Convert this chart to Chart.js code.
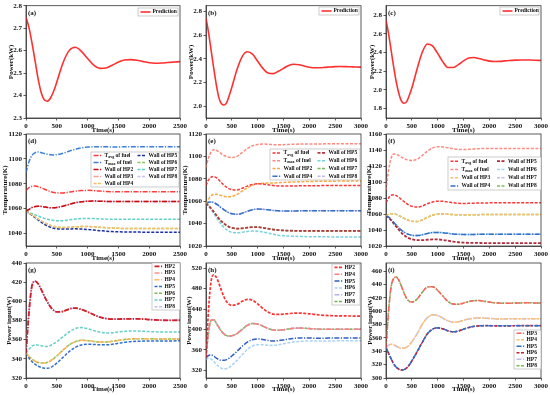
<!DOCTYPE html>
<html><head><meta charset="utf-8">
<script src="https://cdn.jsdelivr.net/npm/chart.js@4.4.1/dist/chart.umd.min.js"></script>
<style>
html,body{margin:0;padding:0;background:#fff;width:550px;height:395px;overflow:hidden;position:relative;}
canvas{position:absolute;}
</style></head><body>
<script>
// ---------- time axes ----------
const T2500 = [0,50,100,150,200,250,300,350,400,450,500,600,700,800,900,1000,1100,1200,1300,1400,1500,1600,1700,1800,1900,2000,2100,2200,2300,2400,2500];
const T3000 = [0,50,100,150,200,250,300,350,400,450,500,600,700,800,900,1000,1100,1200,1300,1400,1500,1600,1700,1800,1900,2000,2100,2200,2300,2400,2500,2600,2700,2800,2900,3000];
const XTICKS_2500 = [0,500,1000,1500,2000,2500];
const XTICKS_3000 = [0,500,1000,1500,2000,2500,3000];

// ---------- (a)-(c) power prediction (kW) ----------
const PRED_A = [2.75,2.70,2.63,2.55,2.47,2.41,2.38,2.375,2.39,2.42,2.46,2.545,2.60,2.615,2.597,2.565,2.535,2.521,2.523,2.535,2.549,2.558,2.56,2.557,2.551,2.546,2.544,2.545,2.547,2.549,2.551];
const PRED_B = [2.75,2.62,2.47,2.32,2.18,2.07,2.02,2.01,2.03,2.09,2.16,2.31,2.42,2.46,2.44,2.38,2.32,2.28,2.275,2.295,2.32,2.345,2.355,2.35,2.34,2.33,2.325,2.325,2.328,2.332,2.335,2.336,2.335,2.333,2.331,2.33];
const PRED_C = [2.75,2.60,2.42,2.24,2.08,1.96,1.88,1.857,1.875,1.94,2.02,2.22,2.40,2.49,2.47,2.39,2.30,2.24,2.24,2.27,2.31,2.34,2.346,2.335,2.32,2.308,2.304,2.305,2.31,2.315,2.318,2.32,2.32,2.319,2.317,2.315];
const YTICKS_A = [2.3,2.4,2.5,2.6,2.7,2.8];
const YTICKS_B = [2.0,2.2,2.4,2.6,2.8];
const YTICKS_C = [1.8,2.0,2.2,2.4,2.6,2.8];

// ---------- (d) temperatures (K) ----------
const D_TAVG = [1074.5,1077,1078,1078.2,1077.6,1076.7,1075.6,1074.6,1073.7,1073,1072.6,1072.6,1073.3,1074.1,1074.6,1074.7,1074.5,1074.1,1073.8,1073.6,1073.5,1073.5,1073.5,1073.5,1073.5,1073.5,1073.5,1073.5,1073.5,1073.5,1073.5];
const D_TMAX = [1089,1098,1103,1105,1105.5,1105,1104.3,1103.7,1103.3,1103.2,1103.4,1104.5,1106.2,1107.8,1108.9,1109.5,1109.7,1109.8,1109.7,1109.6,1109.6,1109.7,1109.7,1109.8,1109.8,1109.8,1109.8,1109.8,1109.8,1109.8,1109.8];
const D_HP238 = [1058,1059.5,1061,1061.8,1062,1061.8,1061.4,1061,1060.8,1060.8,1061,1062,1063.4,1064.7,1065.6,1066,1066.1,1066,1065.8,1065.7,1065.7,1065.7,1065.8,1065.8,1065.8,1065.8,1065.8,1065.8,1065.8,1065.8,1065.8];
const D_HP7 = [1058,1057,1056,1055,1054,1053,1052.2,1051.5,1051,1050.5,1050.2,1050.3,1051,1051.6,1052,1052.1,1052,1051.8,1051.6,1051.5,1051.5,1051.5,1051.5,1051.5,1051.5,1051.5,1051.5,1051.5,1051.5,1051.5,1051.5];
const D_HP46 = [1058,1056.5,1055,1053.3,1051.5,1050,1048.7,1047.5,1046.5,1045.7,1045.2,1044.8,1045,1045.4,1045.6,1045.6,1045.4,1045,1044.7,1044.4,1044.2,1044.1,1044,1044,1044,1044,1044,1044,1044,1044,1044];
const D_HP5 = [1058,1056.3,1054.5,1052.7,1050.8,1049,1047.4,1046,1045,1044.3,1043.9,1043.6,1043.7,1043.8,1043.6,1043.3,1042.8,1042.3,1041.9,1041.6,1041.4,1041.3,1041.2,1041.2,1041.1,1041.1,1041.1,1041.1,1041.1,1041.1,1041.1];
const YTICKS_D = [1040,1060,1080,1100,1120];

// ---------- (e) temperatures (K) ----------
const E_TMAX = [1090,1099,1104,1106,1105.5,1104,1102.3,1100.8,1099.8,1099.2,1099,1100,1103.5,1107,1109.5,1110.7,1111,1110.8,1110.5,1110.4,1110.5,1110.7,1110.9,1111,1111,1111,1111.1,1111.1,1111.2,1111.2,1111.3,1111.3,1111.3,1111.4,1111.4,1111.4];
const E_TAVG = [1074,1079,1081.5,1082,1081,1079,1076.5,1074.2,1072.4,1071,1070.3,1070,1071.5,1073.5,1075,1075.5,1075.3,1074.6,1074,1073.6,1073.5,1073.5,1073.6,1073.7,1073.8,1073.8,1073.9,1073.9,1074,1074,1074,1074,1074,1074,1074,1074];
const E_HP2 = [1058,1062,1065,1066.2,1066.3,1065.7,1065,1064.4,1064,1064,1064.3,1066,1069,1072,1074.3,1075.5,1076,1076.2,1076.3,1076.5,1076.8,1077,1077.2,1077.4,1077.5,1077.6,1077.7,1077.8,1077.8,1077.9,1077.9,1078,1078,1078,1078,1078];
const E_HP48 = [1058,1059,1059.3,1058.8,1057.5,1055.8,1054,1052.3,1050.8,1049.6,1048.8,1048.3,1049.3,1051,1052.4,1053,1052.8,1052.3,1051.8,1051.4,1051.2,1051.2,1051.3,1051.4,1051.4,1051.5,1051.5,1051.5,1051.5,1051.5,1051.5,1051.5,1051.5,1051.5,1051.5,1051.5];
const E_HP57 = [1058,1056,1053.5,1050.5,1047.5,1044.5,1042,1040,1038.3,1037,1036.2,1035.5,1035.8,1036.4,1036.8,1036.8,1036.3,1035.5,1034.7,1034.2,1033.9,1033.7,1033.6,1033.5,1033.5,1033.5,1033.5,1033.5,1033.5,1033.5,1033.5,1033.5,1033.5,1033.5,1033.5,1033.5];
const E_HP6 = [1058,1055.5,1052.5,1049,1045.5,1042,1039,1036.5,1034.5,1033,1032.2,1031.8,1032.3,1033,1033.3,1033.2,1032.6,1031.6,1030.5,1029.7,1029.2,1028.9,1028.7,1028.5,1028.4,1028.3,1028.2,1028.2,1028.2,1028.1,1028.1,1028.1,1028.1,1028.1,1028.1,1028.1];
const YTICKS_E = [1020,1040,1060,1080,1100,1120];

// ---------- (f) temperatures (K) ----------
const F_TMAX = [1090,1115,1130,1135,1134.5,1133,1131,1129.3,1128,1127.2,1127,1128.5,1133,1138.5,1142.5,1144,1143.8,1142.8,1141.5,1140.7,1140.5,1140.8,1141.3,1141.7,1141.9,1142,1142,1142,1142,1142,1142,1142,1142,1142,1142,1142];
const F_TAVG = [1074,1080,1083.5,1084,1083,1080.8,1078,1075.4,1073,1071,1069.6,1068.6,1070,1072.8,1075,1076,1075.8,1075,1074,1073.4,1073.2,1073.3,1073.5,1073.7,1073.8,1073.9,1074,1074,1074,1074,1074,1074,1074,1074,1074,1074];
const F_HP38 = [1058,1059.5,1060.3,1060.3,1059.5,1058,1056.3,1054.6,1053,1051.7,1050.8,1050.5,1052.5,1055.7,1058.5,1059.8,1060,1059.7,1059.3,1059,1058.9,1059,1059.1,1059.2,1059.3,1059.3,1059.4,1059.4,1059.4,1059.4,1059.4,1059.4,1059.4,1059.4,1059.4,1059.4];
const F_HP467 = [1058,1056,1053,1049.5,1046,1042.5,1039.6,1037.3,1035.5,1034.2,1033.4,1033,1034,1035.7,1036.8,1037,1036.6,1035.8,1035,1034.6,1034.4,1034.4,1034.5,1034.6,1034.7,1034.7,1034.8,1034.8,1034.8,1034.8,1034.8,1034.8,1034.8,1034.8,1034.8,1034.8];
const F_HP5 = [1058,1055.5,1052,1048,1044,1040,1036.5,1033.5,1031.2,1029.5,1028.3,1027.3,1027.3,1027.8,1028.2,1028.2,1027.6,1026.6,1025.5,1024.7,1024.2,1024,1023.9,1023.8,1023.7,1023.7,1023.6,1023.6,1023.6,1023.6,1023.6,1023.6,1023.6,1023.6,1023.6,1023.6];
const YTICKS_F = [1020,1040,1060,1080,1100,1120,1140,1160];

// ---------- (g) power input (W) ----------
const G_HP238 = [346,390,417,421,418,412,405,399,394,390.5,389,389.5,392,393,391.5,389,386,383.5,382,381.5,381.5,381.6,381.8,381.8,381.5,381,380.6,380.3,380.2,380.2,380.3];
const G_HP7 = [346,350,353.5,354.6,354.3,353.6,353,353,354,355.8,358,363,368,371.5,372.6,371.5,369.5,367.8,367,367.2,367.9,368.6,369,369,368.8,368.5,368.2,368,367.9,367.9,368];
const G_HP46 = [346,342.5,339.5,337.5,336.2,335.6,335.6,336.4,338,340.3,343,349,354.5,358,359.3,359,358.2,357.6,357.6,358.3,359.3,360.2,360.8,361,361,360.9,360.8,360.7,360.7,360.8,360.8];
const G_HP5 = [346,340.5,337,334.3,332.3,331,330.3,330.2,331,333,335.5,341.5,347.5,352,354.5,355.3,355,354.6,354.6,355.2,356.2,357.2,357.9,358.3,358.5,358.6,358.6,358.6,358.6,358.7,358.8];
const YTICKS_G = [320,340,360,380,400,420,440];

// ---------- (h) power input (W) ----------
const H_HP2 = [345,440,495,507,502,490,476,463,454,449,447,449,455,459,457,450,441,434,430,429.5,430,431,431.8,432,431.5,430.5,429.3,428.3,427.5,427,426.7,426.5,426.4,426.3,426.2,426.2];
const H_HP478 = [345,395,418,419,412,404,396.5,391,388,387,387.5,392,400,408,411.5,410.5,406.5,402,399,398.5,399.5,401,402.3,402.7,402.5,401.8,401.1,400.6,400.4,400.3,400.4,400.5,400.6,400.6,400.5,400.5];
const H_HP5 = [345,349,350,347.5,344,341,339.5,339.5,341,344,348,357,367,375,380,381.5,380.5,378.5,377.5,378,379.5,381.3,382.6,383.2,383.3,383.1,383,383,383,383.1,383.2,383.3,383.4,383.4,383.4,383.4];
const H_HP6 = [341,343.5,342,337.5,332,327,324,323,323.5,326,330,339.5,350.5,361,367.5,370,370,369,368.8,370,372,374,375.6,376.6,377.1,377.3,377.4,377.4,377.4,377.5,377.6,377.7,377.7,377.7,377.7,377.7];
const YTICKS_H = [320,360,400,440,480,520];

// ---------- (i) power input (W) ----------
const I_HP38 = [345,400,437,449,451,446,437,427,419,414.5,413.5,418,428,436,436.5,431,422.5,414.5,410.5,410.3,412,414.3,415.6,415.8,414.9,413.6,412.6,412,411.8,411.9,412.1,412.3,412.4,412.4,412.3,412.3];
const I_HP47 = [345,349,350.5,349.5,347.5,345.5,344.5,344.5,346,349.5,354,366,380,390,394.5,393.5,389.5,385.5,383.5,384,386.3,388.3,389.5,389.8,389.5,389,388.6,388.4,388.4,388.5,388.6,388.7,388.7,388.7,388.7,388.7];
const I_HP56 = [345,337,328.5,321,316,313,312,312.5,315,319.5,325.5,339,353,366,373,375,373.5,370.5,369,370.3,373,375.5,377.2,378,378.2,378.2,378.1,378,378,378.1,378.2,378.3,378.3,378.3,378.3,378.3];
const YTICKS_I = [300,320,340,360,380,400,420,440,460];

// ---------- styles ----------
const FAM = '"Liberation Serif","Times New Roman",serif';
const TF = {family:'Liberation Serif', size:7, weight:'bold'};
const DD = [5,1.5,1.2,1.5];
const DS = [3,1.5];

function ser(label, data, color, dash, w){ return {label, data, color, dash, w: w||1.5}; }

function drawLabel(ctx, txt, x, y){
  ctx.fillStyle = '#111'; ctx.textBaseline = 'middle'; ctx.textAlign = 'left';
  const m = txt.match(/^T_(\w+)(.*)$/);
  ctx.font = 'bold 5.5px ' + FAM;
  if (m) {
    ctx.fillText('T', x, y);
    let w = ctx.measureText('T').width;
    ctx.font = 'bold 4px ' + FAM;
    ctx.fillText(m[1], x + w, y + 1.6);
    w += ctx.measureText(m[1]).width;
    ctx.font = 'bold 5.5px ' + FAM;
    ctx.fillText(m[2], x + w, y);
  } else ctx.fillText(txt, x, y);
}

function makeFrame(sp){
  return {
    id: 'frame',
    afterDraw(chart){
      const ctx = chart.ctx, a = chart.chartArea;
      ctx.save();
      ctx.setLineDash([]);
      ctx.strokeStyle = '#333'; ctx.lineWidth = 0.8;
      ctx.strokeRect(a.left, a.top, a.right - a.left, a.bottom - a.top);
      ctx.fillStyle = '#111'; ctx.font = 'bold 7px ' + FAM;
      ctx.textBaseline = 'middle'; ctx.textAlign = 'left';
      ctx.fillText(sp.letter, a.left + 2, a.top + 7);
      const [lx, ly, lw, lh] = sp.legend;
      const x0 = lx - sp.box[0], y0 = ly - sp.box[1];
      ctx.fillStyle = '#fff'; ctx.fillRect(x0, y0, lw, lh);
      ctx.strokeStyle = '#aaa'; ctx.lineWidth = 0.6; ctx.strokeRect(x0, y0, lw, lh);
      const ds = chart.data.datasets, rows = sp.rows;
      const cols = Math.ceil(ds.length / rows);
      const rh = lh / rows, cw = lw / cols;
      ds.forEach((d, i) => {
        const c = Math.floor(i / rows), r = i % rows;
        const x = x0 + c * cw + 2.5, y = y0 + rh * (r + 0.5);
        ctx.strokeStyle = d.borderColor; ctx.lineWidth = d.borderWidth;
        ctx.setLineDash(d.borderDash || []);
        ctx.beginPath(); ctx.moveTo(x, y); ctx.lineTo(x + sp.sample, y); ctx.stroke();
        ctx.setLineDash([]);
        drawLabel(ctx, d.label, x + sp.sample + 2, y);
      });
      ctx.restore();
    }
  };
}

function panel(sp){
  const [cl, ct, cw, ch] = sp.box;
  const [pl, pt, pr, pb] = sp.plot;
  const cv = document.createElement('canvas');
  cv.width = cw; cv.height = ch;
  cv.style.left = cl + 'px'; cv.style.top = ct + 'px';
  cv.style.width = cw + 'px'; cv.style.height = ch + 'px';
  document.body.appendChild(cv);
  const yW = pl - cl - sp.padL;
  const xH = ct + ch - pb;
  const grid = {drawOnChartArea:false, tickLength:2.5, color:'#333', lineWidth:0.8};
  new Chart(cv, {
    type: 'line',
    data: {datasets: sp.series.map(s => ({
      label: s.label,
      data: sp.t.map((x, i) => ({x, y: s.data[i]})),
      borderColor: s.color, borderDash: s.dash, borderWidth: s.w,
      pointRadius: 0, fill: false, cubicInterpolationMode: 'monotone'
    }))},
    options: {
      responsive: false, animation: false, devicePixelRatio: 1,
      layout: {padding: {left: sp.padL, top: pt - ct, right: cl + cw - pr, bottom: 0}},
      plugins: {legend: {display: false}, tooltip: {enabled: false}},
      scales: {
        x: {type: 'linear', min: 0, max: sp.t[sp.t.length - 1],
          afterBuildTicks: s => { s.ticks = sp.xTicks.map(v => ({value: v})); },
          afterFit: s => { s.height = xH; },
          grid, border: {color: '#333', width: 0.8},
          ticks: {font: TF, color: '#111', padding: 1, maxRotation: 0, autoSkip: false, callback: v => String(v)},
          title: {display: true, text: 'Time(s)', font: TF, color: '#111', padding: {top: 0, bottom: 0}}},
        y: {type: 'linear', min: sp.yMin, max: sp.yMax,
          afterBuildTicks: s => { s.ticks = sp.yTicks.map(v => ({value: v})); },
          afterFit: s => { s.width = yW; },
          grid, border: {color: '#333', width: 0.8},
          ticks: {font: TF, color: '#111', padding: 1.5, autoSkip: false, callback: v => sp.fmt(v)},
          title: {display: true, text: sp.yTitle, font: TF, color: '#111', padding: {top: 0, bottom: 0}}}
      }
    },
    plugins: [makeFrame(sp)]
  });
}

const f1 = v => v.toFixed(1), f0 = v => String(Math.round(v));
const RED = '#ff3030';

// row 1
panel({letter:'(a)', box:[0,0,190,134], plot:[26,5,180,118], padL:6.5, t:T2500, xTicks:XTICKS_2500,
  yMin:2.3, yMax:2.8, yTicks:YTICKS_A, fmt:f1, yTitle:'Power(kW)', legend:[138,8,40,8], rows:1, sample:10,
  series:[ser('Prediction', PRED_A, RED, [], 1.6)]});
panel({letter:'(b)', box:[180,0,191,134], plot:[206,5,361,118], padL:6.5, t:T3000, xTicks:XTICKS_3000,
  yMin:1.9, yMax:2.85, yTicks:YTICKS_B, fmt:f1, yTitle:'Power(kW)', legend:[319,7,40,8], rows:1, sample:10,
  series:[ser('Prediction', PRED_B, RED, [], 1.6)]});
panel({letter:'(c)', box:[365,0,186,134], plot:[386,5,541,118], padL:2.5, t:T3000, xTicks:XTICKS_3000,
  yMin:1.7, yMax:2.9, yTicks:YTICKS_C, fmt:f1, yTitle:'Power(kW)', legend:[500,7,39,8], rows:1, sample:10,
  series:[ser('Prediction', PRED_C, RED, [], 1.6)]});

// row 2
panel({letter:'(d)', box:[0,128,190,134], plot:[26,134,180,246], padL:1, t:T2500, xTicks:XTICKS_2500,
  yMin:1030, yMax:1120, yTicks:YTICKS_D, fmt:f0, yTitle:'Temperature(K)', legend:[91,152,88,35], rows:5, sample:9,
  series:[
    ser('T_avg of fuel', D_TAVG, '#ff3b3b', DD),
    ser('T_max of fuel', D_TMAX, '#3c7fd8', DD),
    ser('Wall of HP2', D_HP238, '#cc0a0a', DD),
    ser('Wall of HP3', D_HP238, '#ff9a9a', DD),
    ser('Wall of HP4', D_HP46, '#ffbf6a', DS),
    ser('Wall of HP5', D_HP5, '#1a2fa0', DS),
    ser('Wall of HP6', D_HP46, '#8cc85a', DS),
    ser('Wall of HP7', D_HP7, '#5fd0c8', DS),
    ser('Wall of HP8', D_HP238, '#c8c0f2', DS)]});
panel({letter:'(e)', box:[180,128,191,134], plot:[206,134,361,246], padL:1, t:T3000, xTicks:XTICKS_3000,
  yMin:1020, yMax:1120, yTicks:YTICKS_E, fmt:f0, yTitle:'Temperature(K)', legend:[270,149,90,31], rows:4, sample:9,
  series:[
    ser('T_avg of fuel', E_TAVG, '#ff3535', DS),
    ser('T_max of fuel', E_TMAX, '#ff8a80', DS),
    ser('Wall of HP2', E_HP2, '#ffa840', DS),
    ser('Wall of HP4', E_HP48, '#2f6fc8', DD),
    ser('Wall of HP5', E_HP57, '#b83840', DS, 1.8),
    ser('Wall of HP6', E_HP6, '#78d0dc', DS),
    ser('Wall of HP7', E_HP57, '#6fbf60', DS),
    ser('Wall of HP8', E_HP48, '#c4bcf0', DS)]});
panel({letter:'(f)', box:[365,128,186,134], plot:[386,134,541,246], padL:0, t:T3000, xTicks:XTICKS_3000,
  yMin:1020, yMax:1160, yTicks:YTICKS_F, fmt:f0, yTitle:'Temperature(K)', legend:[448,157,93,33], rows:4, sample:9,
  series:[
    ser('T_avg of fuel', F_TAVG, '#ff3535', DS),
    ser('T_max of fuel', F_TMAX, '#ff8a80', DS),
    ser('Wall of HP3', F_HP38, '#ffbf6a', DS),
    ser('Wall of HP4', F_HP467, '#2f6fc8', DD),
    ser('Wall of HP5', F_HP5, '#b02a3a', DS, 1.8),
    ser('Wall of HP6', F_HP467, '#a0d4f0', DS),
    ser('Wall of HP7', F_HP467, '#c4bcf0', DS),
    ser('Wall of HP8', F_HP38, '#7fbf5a', DS)]});

// row 3
panel({letter:'(g)', box:[0,256,190,137], plot:[26,263,180,378], padL:5, t:T2500, xTicks:XTICKS_2500,
  yMin:320, yMax:440, yTicks:YTICKS_G, fmt:f0, yTitle:'Power input(W)', legend:[152,263,28,47], rows:7, sample:8,
  series:[
    ser('HP2', G_HP238, '#d0202a', DD, 1.8),
    ser('HP3', G_HP238, '#ff8f8f', DD),
    ser('HP4', G_HP46, '#ffb860', DD),
    ser('HP5', G_HP5, '#2f6fd0', DS),
    ser('HP6', G_HP46, '#7cc050', DS),
    ser('HP7', G_HP7, '#66d0c8', DS),
    ser('HP8', G_HP238, '#c4bcf0', DS)]});
panel({letter:'(h)', box:[180,256,191,137], plot:[206,263,361,378], padL:5, t:T3000, xTicks:XTICKS_3000,
  yMin:305, yMax:530, yTicks:YTICKS_H, fmt:f0, yTitle:'Power input(W)', legend:[332,264,28,41], rows:6, sample:8,
  series:[
    ser('HP2', H_HP2, '#ff3030', DS, 1.7),
    ser('HP4', H_HP478, '#ff7f7f', DD),
    ser('HP5', H_HP5, '#2f5fc0', DD),
    ser('HP6', H_HP6, '#a8d4f4', DS),
    ser('HP7', H_HP478, '#b8b0ee', DD),
    ser('HP8', H_HP478, '#6cb84c', DS)]});
panel({letter:'(i)', box:[365,256,186,137], plot:[386,263,541,378], padL:1, t:T3000, xTicks:XTICKS_3000,
  yMin:300, yMax:472, yTicks:YTICKS_I, fmt:f0, yTitle:'Power input(W)', legend:[514,330,27,39], rows:6, sample:8,
  series:[
    ser('HP3', I_HP38, '#ff6060', DD),
    ser('HP4', I_HP47, '#ffc070', DS),
    ser('HP5', I_HP56, '#2f6fc8', DD),
    ser('HP6', I_HP56, '#c02030', DS, 1.7),
    ser('HP7', I_HP47, '#c4bcf0', DD),
    ser('HP8', I_HP38, '#70bf50', DS)]});
</script>
</body></html>
